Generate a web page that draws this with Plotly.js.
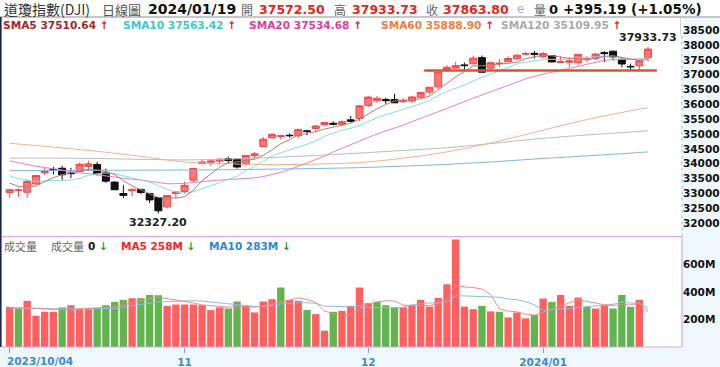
<!DOCTYPE html>
<html><head><meta charset="utf-8">
<script src="https://cdn.plot.ly/plotly-3.0.1.min.js"></script>
<style>html,body{margin:0;padding:0;background:#eef7fc;}#chart{width:720px;height:367px;}</style>
</head><body><div id="chart"></div>
<script>
// ---------- DATA ----------
const dates = [
 '2023-10-04','2023-10-05','2023-10-06','2023-10-09','2023-10-10','2023-10-11','2023-10-12','2023-10-13','2023-10-16','2023-10-17',
 '2023-10-18','2023-10-19','2023-10-20','2023-10-23','2023-10-24','2023-10-25','2023-10-26','2023-10-27','2023-10-30','2023-10-31',
 '2023-11-01','2023-11-02','2023-11-03','2023-11-06','2023-11-07','2023-11-08','2023-11-09','2023-11-10','2023-11-13','2023-11-14',
 '2023-11-15','2023-11-16','2023-11-17','2023-11-20','2023-11-21','2023-11-22','2023-11-24','2023-11-27','2023-11-28','2023-11-29',
 '2023-11-30','2023-12-01','2023-12-04','2023-12-05','2023-12-06','2023-12-07','2023-12-08','2023-12-11','2023-12-12','2023-12-13',
 '2023-12-14','2023-12-15','2023-12-18','2023-12-19','2023-12-20','2023-12-21','2023-12-22','2023-12-26','2023-12-27','2023-12-28',
 '2023-12-29','2024-01-02','2024-01-03','2024-01-04','2024-01-05','2024-01-08','2024-01-09','2024-01-10','2024-01-11','2024-01-12',
 '2024-01-16','2024-01-17','2024-01-18','2024-01-19'];
const open = [
 33030,33100,33041,33320,33700,33815,33850,33690,33735,33912,
 33978,33700,33383,33000,33090,33137,33000,32865,32550,33000,
 33068,33450,34006,34050,34090,34170,34150,34000,34270,34582,
 34872,34918,34960,34943,35110,35190,35310,35364,35330,35480,
 35530,35959,36120,36167,36165,36091,36111,36239,36416,36591,
 37170,37220,37330,37368,37576,37220,37375,37440,37530,37690,
 37720,37600,37639,37410,37420,37400,37505,37550,37744,37790,
 37520,37280,37300,37572.50];
const high = [
 33153,33176,33482,33623,33896,33896,33936,33865,34045,34103,
 34063,33838,33406,33291,33166,33155,33021,32888,32955,33084,
 33400,33855,34147,34130,34200,34240,34183,34296,34400,34902,
 35031,34981,35021,35185,35150,35315,35406,35432,35454,35612,
 35980,36281,36283,36223,36358,36217,36285,36405,36583,37100,
 37325,37430,37412,37647,37647,37408,37534,37617,37684,37778,
 37802,37777,37650,37620,37593,37711,37622,37728,37800,37817,
 37561,37375,37505,37933.73];
const low = [
 32846,32891,32848,33293,33615,33640,33456,33519,33735,33743,
 33604,33358,33118,32846,32906,32978,32678,32327.20,32491,32848,
 32985,33369,33987,33916,33971,33990,33836,33934,34176,34582,
 34872,34815,34876,34860,34960,35066,35298,35290,35268,35395,
 35440,35898,36060,36015,36054,36043,36045,36239,36330,36496,
 37096,37205,37162,37339,37081,37117,37249,37423,37509,37645,
 37538,37566,37416,37410,37256,37316,37414,37495,37430,37478,
 37248,37123,37151,37446];
const close = [
 33129,33119,33408,33604,33739,33804,33631,33670,33985,33998,
 33665,33415,33127,32937,33141,33036,32784,32418,32929,33053,
 33275,33840,34061,34096,34153,34112,33892,34283,34337,34828,
 34991,34945,34947,35151,35088,35273,35390,35334,35416,35430,
 35951,36246,36205,36125,36054,36118,36248,36404,36577,37090,
 37248,37306,37307,37558,37083,37405,37386,37545,37657,37710,
 37690,37715,37430,37440,37466,37683,37525,37695,37711,37593,
 37361,37267,37469,37863.80];
const sma5 = [
 33348,33238,33218,33252,33400,33535,33637,33690,33766,33818,
 33790,33747,33638,33428,33257,33131,33005,32863,32862,32844,
 32892,33103,33432,33665,33885,34052,34063,34107,34155,34290,
 34466,34677,34810,34972,35024,35081,35170,35247,35300,35369,
 35504,35675,35850,35991,36116,36150,36150,36190,36280,36487,
 36713,36925,37106,37302,37300,37332,37348,37395,37415,37541,
 37598,37663,37640,37597,37548,37547,37509,37562,37616,37641,
 37577,37525,37480,37511];
const sma10 = [
 33595,33500,33444,33404,33416,33442,33438,33454,33509,33609,
 33663,33692,33664,33597,33538,33461,33376,33251,33145,33051,
 33012,33054,33148,33264,33365,33472,33583,33770,33910,34088,
 34259,34370,34459,34564,34657,34774,34924,35029,35136,35197,
 35293,35423,35549,35646,35743,35827,35913,36020,36136,36302,
 36432,36538,36648,36791,36894,37023,37137,37251,37359,37421,
 37465,37506,37518,37506,37545,37573,37586,37601,37607,37595,
 37562,37517,37521,37563];
const sma20 = [
 34101,34032,33974,33921,33876,33837,33773,33726,33694,33668,
 33629,33596,33554,33500,33477,33452,33407,33353,33327,33330,
 33338,33373,33406,33430,33452,33467,33480,33511,33528,33570,
 33636,33712,33804,33914,34011,34123,34254,34400,34523,34643,
 34776,34897,35004,35105,35200,35301,35419,35525,35636,35750,
 35863,35981,36099,36219,36319,36425,36525,36636,36748,36862,
 36949,37022,37083,37149,37220,37298,37362,37426,37483,37508,
 37514,37512,37520,37535];
// long averages read at sample dates
const longMaDates = ['2023-10-04','2023-10-11','2023-10-18','2023-10-25','2023-11-01','2023-11-08','2023-11-15','2023-11-22',
 '2023-11-30','2023-12-07','2023-12-14','2023-12-21','2023-12-29','2024-01-08','2024-01-16','2024-01-19'];
const sma60  = [34690,34560,34420,34250,34060,34000,33970,33990,34040,34190,34400,34700,35060,35420,35730,35889];
const sma120 = [34190,34190,34180,34150,34130,34160,34210,34280,34360,34450,34540,34680,34830,34950,35050,35110];
const sma240 = [33770,33775,33780,33785,33790,33800,33820,33840,33870,33920,33980,34060,34160,34250,34340,34400];
// volume, millions
const volume = [
 293,281,337,228,257,257,289,305,276,276,
 286,305,329,344,356,356,380,378,300,310,
 310,310,305,269,289,281,332,300,252,332,
 349,434,344,337,271,240,119,257,264,300,
 434,320,329,305,289,289,300,344,295,358,
 458,785,295,276,300,260,257,216,252,209,
 233,354,329,380,300,361,293,281,305,281,
 380,293,344,0];
const volMa5 = [
 286,286,285,283,279,272,274,267,277,281,
 286,290,294,308,324,338,353,363,354,345,
 336,322,307,301,297,291,295,294,291,299,
 313,333,342,359,347,325,262,245,230,236,
 275,315,329,338,335,306,302,305,303,317,
 351,448,438,434,423,383,278,262,257,239,
 233,253,275,301,319,345,333,323,308,304,
 308,308,321,258];
const volMa10 = [
 285,283,283,281,280,279,279,279,280,280,
 279,282,281,293,303,312,322,329,331,335,
 337,338,335,328,321,314,309,301,296,298,
 302,314,318,325,323,319,298,294,295,292,
 300,289,287,284,286,291,309,317,321,326,
 329,375,372,369,370,367,363,350,346,331,
 308,266,269,279,279,289,293,299,305,312,
 327,321,322,283];
const eventDates = ['2023-10-24','2023-12-20','2024-01-05','2024-01-12'];
const priceTicks = [32000,32500,33000,33500,34000,34500,35000,35500,36000,36500,37000,37500,38000,38500];
const volTicks = [200,400,600];
const volTickText = ['200M','400M','600M'];
const monthTickDates = ['2023-10-04','2023-11-01','2023-12-01','2024-01-02'];
const monthTickText = ['','11','12','2024/01'];
const supportLevel = 37140;

// ---------- STYLE / LAYOUT ----------
const W=720,H=367,ML=2,MR=38,MT=17,MB=20,PW=W-ML-MR,PH=H-MT-MB;
const px = x => (x-ML)/PW, py = y => (H-MB-y)/PH;
const split = py(236.7);
const GREEN='#62b44e';
const volColors = close.map((c,i)=> i===0 || c>=close[i-1] ? '#ff5f5f' : GREEN);
const F='DejaVu Sans', CJK='Noto Sans CJK TC';

const traces = [
 {type:'candlestick', x:dates, open:open, high:high, low:low, close:close, xaxis:'x', yaxis:'y',
  increasing:{line:{color:'#f04848',width:1}, fillcolor:'#ff7474'},
  decreasing:{line:{color:'#111',width:1}, fillcolor:'#111'},
  whiskerwidth:0, hoverinfo:'skip', showlegend:false},
 {type:'scatter', mode:'lines', x:longMaDates, y:sma240, line:{color:'#7fb6e6',width:1,shape:'spline'}, yaxis:'y', hoverinfo:'skip'},
 {type:'scatter', mode:'lines', x:longMaDates, y:sma120, line:{color:'#bdbdbd',width:1,shape:'spline'}, yaxis:'y', hoverinfo:'skip'},
 {type:'scatter', mode:'lines', x:longMaDates, y:sma60, line:{color:'#f6b08c',width:1,shape:'spline'}, yaxis:'y', hoverinfo:'skip'},
 {type:'scatter', mode:'lines', x:dates, y:sma20, line:{color:'#e77fca',width:1}, yaxis:'y', hoverinfo:'skip'},
 {type:'scatter', mode:'lines', x:dates, y:sma10, line:{color:'#86dbe6',width:1}, yaxis:'y', hoverinfo:'skip'},
 {type:'scatter', mode:'lines', x:dates, y:sma5, line:{color:'#b87b70',width:1}, yaxis:'y', hoverinfo:'skip'},
 {type:'bar', x:dates, y:volume, marker:{color:volColors, line:{width:0}}, xaxis:'x', yaxis:'y2', hoverinfo:'skip'},
 {type:'scatter', mode:'lines', x:dates, y:volMa10, line:{color:'#8cbce6',width:1}, yaxis:'y2', hoverinfo:'skip'},
 {type:'scatter', mode:'lines', x:dates, y:volMa5, line:{color:'#f08a8a',width:1}, yaxis:'y2', hoverinfo:'skip'},
 {type:'scatter', mode:'markers', x:eventDates, y:eventDates.map(()=>812), yaxis:'y2', cliponaxis:false,
  marker:{symbol:'triangle-up-open', size:6, color:'#b9aecb', line:{width:1}}, hoverinfo:'skip'}
];

function ann(x,y,text,opt){
  return Object.assign({xref:'paper',yref:'paper',x:px(x),y:py(y),text:text,showarrow:false,
    xanchor:'left',yanchor:'middle',font:{family:F,size:12,color:'#111'}},opt||{});
}
const up = c => '<span style="color:'+c+'">↑</span>';
const dn = '<span style="color:#1aa01a">↓</span>';
const annotations = [
 ann(2,9,'道瓊指數(DJI)',{font:{family:CJK,size:14,color:'#333'}}),
 ann(100,9,'日線圖',{font:{family:CJK,size:13,color:'#555'}}),
 ann(146,9,'2024/01/19',{font:{family:F,size:14,color:'#111',weight:'bold'}}),
 ann(239,9,'開',{font:{family:CJK,size:12,color:'#666'}}),
 ann(257,9,'37572.50',{font:{family:F,size:12.5,color:'#e8231c',weight:'bold'}}),
 ann(332,9,'高',{font:{family:CJK,size:12,color:'#666'}}),
 ann(350,9,'37933.73',{font:{family:F,size:12.5,color:'#e8231c',weight:'bold'}}),
 ann(424,9,'收',{font:{family:CJK,size:12,color:'#666'}}),
 ann(441,9,'37863.80',{font:{family:F,size:12.5,color:'#e8231c',weight:'bold'}}),
 ann(515,9,'e',{font:{family:F,size:12,color:'#b4a6ea'}}),
 ann(532,9,'量',{font:{family:CJK,size:12,color:'#666'}}),
 ann(547,9,'0',{font:{family:F,size:13,color:'#111',weight:'bold'}}),
 ann(561,9,'+395.19 (+1.05%)',{font:{family:F,size:13.5,color:'#111',weight:'bold'}}),
 ann(1,25,'SMA5 37510.64 '+up('#e0261e'),{font:{family:F,size:10.6,color:'#a3262a',weight:'bold'}}),
 ann(121,25,'SMA10 37563.42 '+up('#e0261e'),{font:{family:F,size:10.6,color:'#3cc6d6',weight:'bold'}}),
 ann(247,25,'SMA20 37534.68 '+up('#e0261e'),{font:{family:F,size:10.6,color:'#e03c98',weight:'bold'}}),
 ann(379,25,'SMA60 35888.90 '+up('#e0261e'),{font:{family:F,size:10.6,color:'#f37b3f',weight:'bold'}}),
 ann(499,25,'SMA120 35109.95 '+up('#e0261e'),{font:{family:F,size:10.6,color:'#a9a9a9',weight:'bold'}}),
 ann(2,245.5,'成交量',{font:{family:CJK,size:11,color:'#666'}}),
 ann(49,245.5,'成交量',{font:{family:CJK,size:11,color:'#666'}}),
 ann(86,245.5,'0 '+dn,{font:{family:F,size:10.5,color:'#111',weight:'bold'}}),
 ann(119,245.5,'MA5 258M '+dn,{font:{family:F,size:10.5,color:'#f0262a',weight:'bold'}}),
 ann(207,245.5,'MA10 283M '+dn,{font:{family:F,size:10.5,color:'#2f86d0',weight:'bold'}}),
 {xref:'x',yref:'y',x:dates[73],y:high[73],text:'37933.73',showarrow:false,xanchor:'center',yanchor:'bottom',yshift:1,
  font:{family:F,size:11,color:'#222',weight:'bold'}},
 {xref:'x',yref:'y',x:dates[17],y:low[17],text:'32327.20',showarrow:false,xanchor:'center',yanchor:'top',yshift:-1,
  font:{family:F,size:11,color:'#222',weight:'bold'}},
 {xref:'x',yref:'paper',x:dates[0],y:py(361),text:'2023/10/04',showarrow:false,xanchor:'left',yanchor:'middle',xshift:-5,
  font:{family:F,size:10.5,color:'#3a8ccc',weight:'bold'}}
];

const shapes = [
 {type:'rect',xref:'paper',yref:'paper',x0:px(0),x1:px(720),y0:py(17),y1:py(0),fillcolor:'#ffffff',line:{width:0},layer:'below'},
 {type:'line',xref:'paper',yref:'paper',x0:px(0),x1:px(720),y0:py(17),y1:py(17),line:{color:'#b5b5b5',width:1.5}},
 {type:'line',xref:'paper',yref:'paper',x0:px(680.5),x1:px(680.5),y0:py(17),y1:py(35),line:{color:'#c6ced6',width:1}},
 {type:'line',xref:'paper',yref:'paper',x0:1,x1:1,y0:split,y1:py(35),line:{color:'#8fc0e0',width:1,dash:'dot'}},
 {type:'line',xref:'paper',yref:'paper',x0:0,x1:1,y0:split,y1:split,line:{color:'#d6a8e6',width:1.2}},
 {type:'line',xref:'paper',yref:'paper',x0:0,x1:1,y0:0,y1:0,line:{color:'#d6a8e6',width:1.2}},
 {type:'line',xref:'paper',yref:'paper',x0:1,x1:1,y0:0,y1:split,line:{color:'#d6a8e6',width:1.2}},
 {type:'line',xref:'paper',yref:'paper',x0:px(0.8),x1:px(0.8),y0:0,y1:py(17),line:{color:'#1c2a48',width:1.6}},
 {type:'line',xref:'x',yref:'y',x0:47.4,x1:74.0,y0:supportLevel,y1:supportLevel,line:{color:'#e2541c',width:2.5}}
];

const layout = {
 width:W,height:H,margin:{l:ML,r:MR,t:MT,b:MB},
 paper_bgcolor:'#eef7fc',plot_bgcolor:'#ffffff',showlegend:false,
 boxgap:0.2,boxgroupgap:0,bargap:0.16,
 xaxis:{type:'category',categoryorder:'array',categoryarray:dates,anchor:'y2',range:[-0.88,76.88],
   rangeslider:{visible:false},showgrid:false,zeroline:false,showline:false,
   tickmode:'array',tickvals:monthTickDates,ticktext:monthTickText,ticks:'outside',ticklen:5,tickcolor:'#7aa6c8',
   tickfont:{family:F,size:10.5,color:'#3a8ccc',weight:'bold'}},
 yaxis:{domain:[split,1],range:[31545,38943],side:'right',showgrid:false,zeroline:false,showline:false,
   tickmode:'array',tickvals:priceTicks,tickformat:'d',ticks:'',tickfont:{family:F,size:10.5,color:'#111',weight:'bold'},anchor:'x'},
 yaxis2:{domain:[0,split],range:[0,805],side:'right',showgrid:false,zeroline:false,showline:false,
   tickmode:'array',tickvals:volTicks,ticktext:volTickText,ticks:'',tickfont:{family:F,size:10.5,color:'#111',weight:'bold'},anchor:'x'},
 annotations:annotations, shapes:shapes
};
Plotly.newPlot('chart',traces,layout,{displayModeBar:false,staticPlot:true});
</script></body></html>
